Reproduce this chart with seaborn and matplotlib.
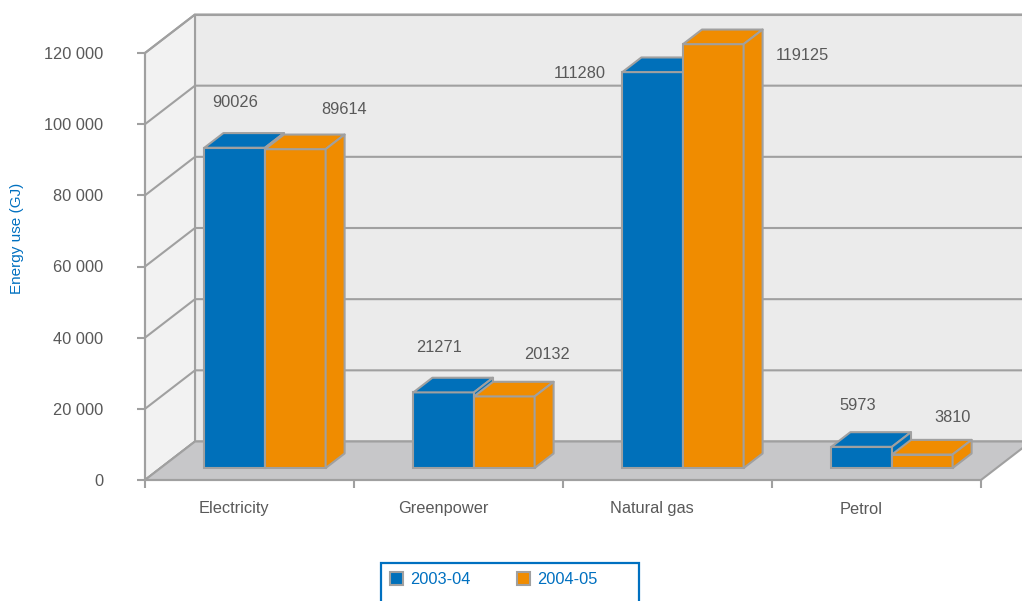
import matplotlib
matplotlib.use("Agg")
import matplotlib.pyplot as plt
import seaborn as sns
import pandas as pd
from matplotlib.patches import Polygon, Rectangle, Patch
from matplotlib.ticker import FuncFormatter, FixedLocator

# ---------------- data ----------------
categories = ["Electricity", "Greenpower", "Natural gas", "Petrol"]
periods = ["2003-04", "2004-05"]
values_2003_04 = [90026, 21271, 111280, 5973]
values_2004_05 = [89614, 20132, 119125, 3810]
y_ticks = [0, 20000, 40000, 60000, 80000, 100000, 120000]

# ---------------- style ----------------
BLUE = "#0070BA"
ORANGE = "#F08C00"
EDGE = "#A0A0A0"
TEXT = "#595959"
LEG_BLUE = "#0070C0"
BACK_WALL = "#EBEBEB"
SIDE_WALL = "#F2F2F2"
FLOOR = "#C7C7C9"

plt.rcParams["font.family"] = ["Liberation Sans", "DejaVu Sans"]

W, H = 1022, 601
fig = plt.figure(figsize=(W / 100, H / 100), dpi=100)
# front plane of the 3-D box in pixels
left_px, right_px, bottom_px, top_px = 145, 981, 480, 53
ax = fig.add_axes([left_px / W, 1 - bottom_px / H,
                   (right_px - left_px) / W, (bottom_px - top_px) / H])

df = pd.DataFrame({
    "category": categories * 2,
    "period": [periods[0]] * 4 + [periods[1]] * 4,
    "value": values_2003_04 + values_2004_05,
})

sns.barplot(data=df, x="category", y="value", hue="period",
            palette=[BLUE, ORANGE], width=0.58, saturation=1,
            edgecolor=EDGE, linewidth=1.5, legend=False, ax=ax)

YMAX = 120000
ax.set_xlim(-0.5, 3.5)
ax.set_ylim(0, YMAX)

# depth projection in data units
ppx = (right_px - left_px) / 4.0           # pixels per category
ppy = (bottom_px - top_px) / YMAX          # pixels per value unit
DX = 50 / ppx
DY = 38.5 / ppy


def proj(x, y, t):
    return (x + t * DX, y + t * DY)


kw = dict(clip_on=False)
# back wall
back = Polygon([proj(-0.5, 0, 1), proj(3.5, 0, 1), proj(3.5, YMAX, 1), proj(-0.5, YMAX, 1)],
               closed=True, facecolor=BACK_WALL, edgecolor=EDGE, lw=1.5, zorder=0.5, **kw)
ax.add_patch(back)
# left wall
side = Polygon([proj(-0.5, 0, 0), proj(-0.5, 0, 1), proj(-0.5, YMAX, 1), proj(-0.5, YMAX, 0)],
               closed=True, facecolor=SIDE_WALL, edgecolor=EDGE, lw=1.5, zorder=0.5, **kw)
ax.add_patch(side)
# grid lines on walls
for yv in y_ticks:
    p0 = proj(-0.5, yv, 0)
    p1 = proj(-0.5, yv, 1)
    p2 = proj(3.5, yv, 1)
    ax.plot([p0[0], p1[0], p2[0]], [p0[1], p1[1], p2[1]], color=EDGE, lw=1.5,
            zorder=0.6, solid_joinstyle="miter", **kw)
# floor
floor = Polygon([proj(-0.5, 0, 0), proj(3.5, 0, 0), proj(3.5, 0, 1), proj(-0.5, 0, 1)],
                closed=True, facecolor=FLOOR, edgecolor=EDGE, lw=1.5, zorder=0.7, **kw)
ax.add_patch(floor)

# 3-D bars
d0, dd = 0.31, 0.38
label_offsets = [  # pixel offsets of value labels from bar front-top centre
    [(0, -45), (-5, -45), (-73, 1), (-4, -41)],
    [(49, -40), (43, -42), (89, 11), (30, -37)],
]
for k, cont in enumerate(ax.containers):
    color = [BLUE, ORANGE][k]
    base_z = 3 + k
    for i, bar in enumerate(cont.patches):
        x = bar.get_x() + d0 * DX
        w = bar.get_width()
        h = bar.get_height()
        y0 = d0 * DY
        bar.set_x(x)
        bar.set_y(y0)
        bar.set_zorder(base_z)
        bar.set_clip_on(False)
        top = Polygon([(x, y0 + h), (x + w, y0 + h),
                       (x + w + dd * DX, y0 + h + dd * DY), (x + dd * DX, y0 + h + dd * DY)],
                      closed=True, facecolor=color, edgecolor=EDGE, lw=1.5,
                      joinstyle="round", zorder=base_z + 0.1, **kw)
        sidef = Polygon([(x + w, y0), (x + w, y0 + h),
                         (x + w + dd * DX, y0 + h + dd * DY), (x + w + dd * DX, y0 + dd * DY)],
                        closed=True, facecolor=color, edgecolor=EDGE, lw=1.5,
                        joinstyle="round", zorder=base_z + 0.1, **kw)
        ax.add_patch(top)
        ax.add_patch(sidef)
        ox, oy = label_offsets[k][i]
        ax.annotate(f"{int(h)}", (x + w / 2, y0 + h), xytext=(ox * 0.72, -oy * 0.72),
                    textcoords="offset points", ha="center", va="center",
                    fontsize=11.8, color=TEXT, annotation_clip=False, zorder=10)

# axes styling
ax.patch.set_visible(False)
for s in ["top", "right"]:
    ax.spines[s].set_visible(False)
for s in ["left", "bottom"]:
    ax.spines[s].set_color(EDGE)
    ax.spines[s].set_linewidth(1.5)
    ax.spines[s].set_zorder(0.8)
ax.set_xlabel("")
ax.set_ylabel("")
ax.yaxis.set_major_locator(FixedLocator(y_ticks))
ax.yaxis.set_major_formatter(FuncFormatter(lambda v, p: f"{int(v):,}".replace(",", " ")))
ax.tick_params(axis="y", length=5.8, width=1.5, color=EDGE, labelsize=11.8,
               labelcolor=TEXT, pad=24)
ax.set_xticks([0, 1, 2, 3])
ax.set_xticklabels([])
ax.tick_params(axis="x", which="major", length=0)
ax.set_xticks([-0.5, 0.5, 1.5, 2.5, 3.5], minor=True)
ax.tick_params(axis="x", which="minor", length=5.8, width=1.5, color=EDGE)

for i, c in enumerate(categories):
    ax.annotate(c, (i, 0), xytext=(-15.5 * 0.72, -29 * 0.72), textcoords="offset points",
                ha="center", va="center", fontsize=11.8, color=TEXT, annotation_clip=False)

fig.text(17 / W, 1 - 238 / H, "Energy use (GJ)", rotation=90, ha="center", va="center",
         fontsize=11, color=LEG_BLUE)

# legend
frame = Rectangle((381 / W, -0.05), (639 - 381) / W, (601 - 563) / H + 0.05,
                  transform=fig.transFigure, fill=False, edgecolor=LEG_BLUE, lw=1.6)
fig.patches.append(frame)
handles = [Patch(facecolor=BLUE, edgecolor=EDGE, lw=1.5),
           Patch(facecolor=ORANGE, edgecolor=EDGE, lw=1.5)]
leg = fig.legend(handles, periods, loc="upper left", bbox_to_anchor=(381 / W, 1 - 563 / H),
                 ncol=2, frameon=False, fontsize=11.8, handlelength=0.8, handleheight=0.8,
                 handletextpad=0.45, columnspacing=2.8, borderpad=0.55, borderaxespad=0)
for t in leg.get_texts():
    t.set_color(LEG_BLUE)

fig.savefig("out.png", dpi=100)
